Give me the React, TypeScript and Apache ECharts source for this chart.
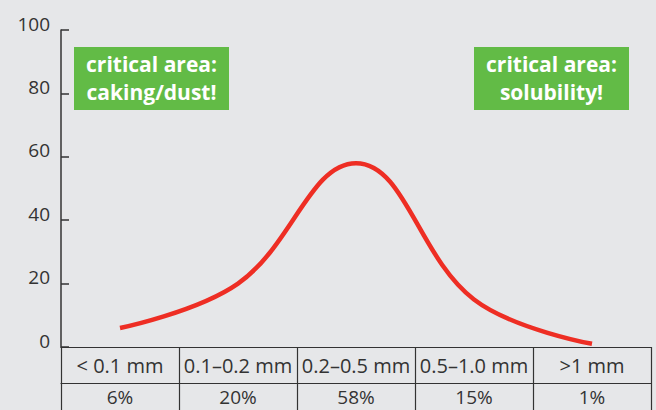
import React, { useEffect, useRef } from "react";
import * as echarts from "echarts";

const categories = ["< 0.1 mm", "0.1–0.2 mm", "0.2–0.5 mm", "0.5–1.0 mm", ">1 mm"];
const values = [6, 20, 58, 15, 1];
const percentLabels = ["6%", "20%", "58%", "15%", "1%"];
const yTicks = { min: 0, max: 100, interval: 20 };
const noteLeft = ["critical area:", "caking/dust!"];
const noteRight = ["critical area:", "solubility!"];

const FONT = "'Open Sans', 'Noto Sans', sans-serif";
const TXT = "#333333";
const GREEN = "#62bb46";

export default function App() {
  const ref = useRef<HTMLDivElement>(null);
  useEffect(() => {
    if (!ref.current) return;
    const chart = echarts.init(ref.current, null, { renderer: "svg" });
    const note = (cx: number, lines: string[]) => ({
      type: "group",
      children: [
        { type: "rect", shape: { x: cx - 77.5, y: 47, width: 155, height: 63 }, style: { fill: GREEN } },
        {
          type: "text",
          x: cx,
          y: 78,
          style: {
            text: lines.join("\n"),
            fill: "#ffffff",
            font: `bold 21px ${FONT}`,
            lineHeight: 28,
            align: "center",
            verticalAlign: "middle",
          },
        },
      ],
    });
    chart.setOption({
      animation: false,
      backgroundColor: "#e6e7e9",
      grid: { left: 61, top: 30, width: 590, height: 317 },
      xAxis: [
        {
          type: "category",
          data: categories,
          position: "bottom",
          boundaryGap: true,
          axisLine: { show: true, lineStyle: { color: TXT, width: 1.2 } },
          axisTick: { show: true, inside: false, length: 70, interval: 0, lineStyle: { color: TXT, width: 1.2 } },
          axisLabel: { interval: 0, margin: 18, verticalAlign: "middle", color: TXT, fontSize: 20, fontFamily: FONT },
          splitLine: { show: false },
        },
        {
          type: "category",
          data: percentLabels,
          position: "bottom",
          offset: 36,
          boundaryGap: true,
          axisLine: { show: true, lineStyle: { color: TXT, width: 1.2 } },
          axisTick: { show: false },
          axisLabel: {
            interval: 0,
            margin: 14,
            verticalAlign: "middle",
            lineHeight: 16,
            color: TXT,
            fontSize: 19,
            fontFamily: FONT,
          },
          splitLine: { show: false },
        },
      ],
      yAxis: {
        type: "value",
        min: yTicks.min,
        max: yTicks.max,
        interval: yTicks.interval,
        axisLine: { show: true, lineStyle: { color: TXT, width: 1.5 } },
        axisTick: { show: true, inside: true, length: 8, lineStyle: { color: TXT, width: 1.5 } },
        axisLabel: {
          margin: 11,
          color: TXT,
          fontSize: 19,
          fontFamily: FONT,
          verticalAlign: "bottom",
          lineHeight: 13,
        },
        splitLine: { show: false },
      },
      series: [
        {
          type: "line",
          xAxisIndex: 0,
          data: values,
          smooth: 0.4,
          symbol: "none",
          lineStyle: { color: "#ee2e24", width: 4.5 },
        },
      ],
      graphic: [note(151.5, noteLeft), note(551.5, noteRight)],
    });
    return () => chart.dispose();
  }, []);
  return <div ref={ref} style={{ width: 656, height: 410, position: "absolute", left: 0, top: 0 }} />;
}
